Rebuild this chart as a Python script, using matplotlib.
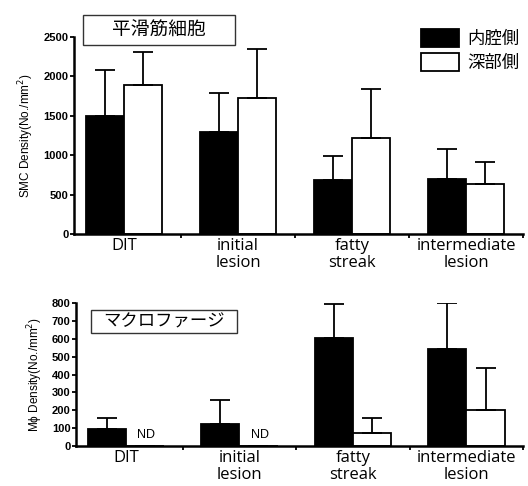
import matplotlib
matplotlib.use('Agg')
import matplotlib.pyplot as plt
from matplotlib.patches import Patch, Rectangle
import numpy as np

# data
groups = ['DIT', 'initial\nlesion', 'fatty\nstreak', 'intermediate\nlesion']
series = ['内腔側', '深部側']

smc_luminal = [1500, 1290, 685, 700]
smc_luminal_err = [580, 500, 305, 380]
smc_deep = [1890, 1730, 1215, 635]
smc_deep_err = [420, 620, 620, 280]

mac_luminal = [95, 123, 604, 543]
mac_luminal_err = [62, 134, 191, 257]
mac_deep = [0, 0, 73, 201]
mac_deep_err = [0, 0, 84, 235]
mac_deep_nd = [True, True, False, False]

smc_ticks = [0, 500, 1000, 1500, 2000, 2500]
mac_ticks = [0, 100, 200, 300, 400, 500, 600, 700, 800]

cjk = ['Noto Sans CJK JP', 'DejaVu Sans']
plt.rcParams['font.family'] = ['Liberation Sans', 'DejaVu Sans']

fig = plt.figure(figsize=(5.28, 4.86), dpi=100)
ax1 = fig.add_axes([0.140, 0.5185, 0.851, 0.4055])
ax2 = fig.add_axes([0.144, 0.0823, 0.847, 0.2942])

x = np.arange(len(groups))
w = 0.335


def draw(ax, lum, lum_err, deep, deep_err, ymax, ticks, ylabel):
	ax.bar(x - w/2, lum, w, color='black', edgecolor='black', linewidth=1.3,
		yerr=[np.zeros(len(lum)), lum_err], capsize=7,
		error_kw=dict(elinewidth=1.3, capthick=1.3, ecolor='black'))
	ax.bar(x + w/2, deep, w, color='white', edgecolor='black', linewidth=1.3,
		yerr=[np.zeros(len(deep)), deep_err], capsize=7,
		error_kw=dict(elinewidth=1.3, capthick=1.3, ecolor='black'))
	ax.set_xlim(-0.44, 3.5)
	ax.set_ylim(0, ymax)
	ax.spines['top'].set_visible(False)
	ax.spines['right'].set_visible(False)
	ax.spines['left'].set_linewidth(1.8)
	ax.spines['bottom'].set_linewidth(1.8)
	ax.set_yticks(ticks)
	ax.set_yticklabels([str(t) for t in ticks], fontsize=8, fontweight='bold')
	ax.tick_params(axis='y', length=3, width=1.3, pad=1)
	# group boundary ticks without labels, labels at group centres
	ax.set_xticks([0.5, 1.5, 2.5, 3.5])
	ax.set_xticklabels([])
	ax.tick_params(axis='x', which='major', length=3, width=1.3)
	ax.set_xticks(x, minor=True)
	ax.set_xticklabels(groups, minor=True, fontsize=12, family='Open Sans',
		linespacing=1.1)
	ax.tick_params(axis='x', which='minor', length=0, pad=3)
	ax.set_ylabel(ylabel, fontsize=8.5, labelpad=5)


draw(ax1, smc_luminal, smc_luminal_err, smc_deep, smc_deep_err, 2500,
	smc_ticks, 'SMC Density(No./mm$^2$)')
draw(ax2, mac_luminal, mac_luminal_err, mac_deep, mac_deep_err, 800,
	mac_ticks, 'M\u03d5 Density(No./mm$^2$)')

for i, nd in enumerate(mac_deep_nd):
	if nd:
		ax2.text(x[i] + 0.1, 62, 'ND', fontsize=9, va='center', ha='left')

# title boxes (figure pixel coordinates converted to fractions)
W, H = 528.0, 486.0
fig.patches.append(Rectangle((83/W, 1 - 45/H), 152/W, 30/H, transform=fig.transFigure,
	facecolor='white', edgecolor='#333333', linewidth=1))
fig.text(159/W, 1 - 30/H, '平滑筋細胞', family=cjk, fontsize=13.5, ha='center', va='center')
fig.patches.append(Rectangle((91/W, 1 - 333/H), 146/W, 23/H, transform=fig.transFigure,
	facecolor='white', edgecolor='#333333', linewidth=1))
fig.text(164/W, 1 - 321.5/H, 'マクロファージ', family=cjk, fontsize=12.5, ha='center', va='center')

# legend
handles = [Patch(facecolor='black', edgecolor='black', linewidth=1.3),
	Patch(facecolor='white', edgecolor='black', linewidth=1.3)]
fig.legend(handles, series, loc='upper left', bbox_to_anchor=(0.784, 0.955),
	frameon=False, prop={'family': cjk, 'size': 12.5}, handlelength=2.2,
	handleheight=1.2, handletextpad=0.5, labelspacing=0.3, borderaxespad=0)

fig.savefig('out.png', dpi=100)
